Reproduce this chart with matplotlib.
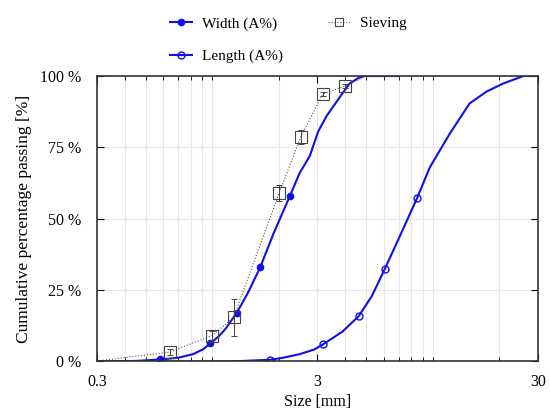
import numpy as np
import matplotlib
matplotlib.use('Agg')
import matplotlib.pyplot as plt
from matplotlib.ticker import FixedLocator, NullFormatter

plt.rcParams['font.family'] = 'Liberation Serif'
plt.rcParams['font.size'] = 11

# width curve (image analysis, A%)
width_x = [0.3, 0.45, 0.58, 0.7, 0.82, 0.91, 0.98, 1.07, 1.15, 1.29, 1.45, 1.65, 1.9,
           2.25, 2.49, 2.77, 3.02, 3.3, 3.62, 3.9, 4.2, 4.6, 4.9, 7.0]
width_y = [0, 0.2, 0.7, 1.3, 2.6, 4.3, 6.4, 8.8, 11.5, 17, 24, 33, 45,
           58, 66, 72, 80.5, 86, 90.4, 94, 97.4, 99.3, 100, 100]
width_marks = [2, 6, 9, 11, 13]

# length curve (image analysis, A%)
length_x = [0.3, 1.2, 1.83, 2.09, 2.5, 2.9, 3.18, 3.9, 4.63, 5.3, 6.07, 7.2, 8.5, 9.7,
            11.97, 14.7, 17.5, 20.9, 25.8, 29.0]
length_y = [0, 0, 0.6, 1.3, 2.6, 4.2, 6, 10.5, 16, 23, 32.5, 45, 57.3, 68,
            79.9, 90.4, 94.5, 97.4, 100, 100]
length_marks = [2, 6, 8, 10, 12]

# sieving results with error bars
sieve_x = [0.31, 0.64, 1.0, 1.25, 2.01, 2.52, 3.17, 4.0, 5.0]
sieve_y = [0.3, 3.3, 9.1, 15.5, 59, 78.7, 93.7, 96.5, 100]
sieve_err = [0, 1.0, 1.5, 6.5, 2.7, 2.5, 0.7, 0.7, 0]
sieve_marks = [1, 2, 3, 4, 5, 6, 7]

fig = plt.figure(figsize=(5.5, 4.12), dpi=100)
ax = fig.add_axes([0.1764, 0.1226, 0.8016, 0.6929])

blue = '#1010e6'
l1, = ax.plot(width_x, width_y, '-', color=blue, lw=1.5, marker='o', ms=4.5,
              markevery=width_marks, label='Width (A%)')
l2, = ax.plot(length_x, length_y, '-', color=blue, lw=1.5, marker='o', ms=5,
              mfc='none', mew=1.0, markevery=length_marks, label='Length (A%)')

ax.plot(sieve_x, sieve_y, ':', color='#555555', lw=0.8)
idx = sieve_marks
ax.errorbar([sieve_x[i] for i in idx], [sieve_y[i] for i in idx],
            yerr=[sieve_err[i] for i in idx], fmt='none', ecolor='#444444',
            elinewidth=0.7, capsize=2.5, capthick=0.7)
ax.plot([sieve_x[i] for i in idx], [sieve_y[i] for i in idx], 's', ms=8,
        mfc='none', mec='#444444', mew=0.8)
l3, = ax.plot([], [], ':', color='#555555', lw=0.8, marker='s', ms=6,
              mfc='none', mec='#444444', mew=0.8, label='Sieving')

ax.set_xscale('log')
ax.set_xlim(0.3, 30)
ax.set_ylim(0, 100)
ax.xaxis.set_major_locator(FixedLocator([0.3, 3, 30]))
ax.set_xticklabels(['0.3', '3', '30'])
minors = [0.4, 0.5, 0.6, 0.7, 0.8, 0.9, 1, 2, 4, 5, 6, 7, 8, 9, 10, 20]
ax.xaxis.set_minor_locator(FixedLocator(minors))
ax.xaxis.set_minor_formatter(NullFormatter())
ax.set_yticks([0, 25, 50, 75, 100])
ax.set_yticklabels(['0 %', '25 %', '50 %', '75 %', '100 %'])

ax.grid(True, which='both', axis='x', color='#e6e6e6', lw=0.8)
ax.grid(True, which='major', axis='y', color='#e6e6e6', lw=0.8)
ax.set_axisbelow(True)
ax.tick_params(which='both', direction='in', top=True, right=True, labelsize=11.5)
ax.tick_params(which='major', length=5)
ax.tick_params(which='minor', length=3)
ax.tick_params(axis='y', pad=11)
ax.tick_params(axis='x', pad=9)
for s in ax.spines.values():
    s.set_linewidth(1.2)
    s.set_color('#333333')

ax.set_xlabel('Size [mm]', fontsize=11.5, labelpad=3)
ax.set_ylabel('Cumulative percentage passing [%]', fontsize=12.5, labelpad=6)

fig.legend(handles=[l1, l2, l3], ncol=2, loc='upper center',
           bbox_to_anchor=(0.524, 0.993), frameon=False, fontsize=11,
           labelspacing=1.25, columnspacing=2.9, handlelength=1.45,
           handletextpad=0.65)

fig.savefig('out.png', dpi=100)
